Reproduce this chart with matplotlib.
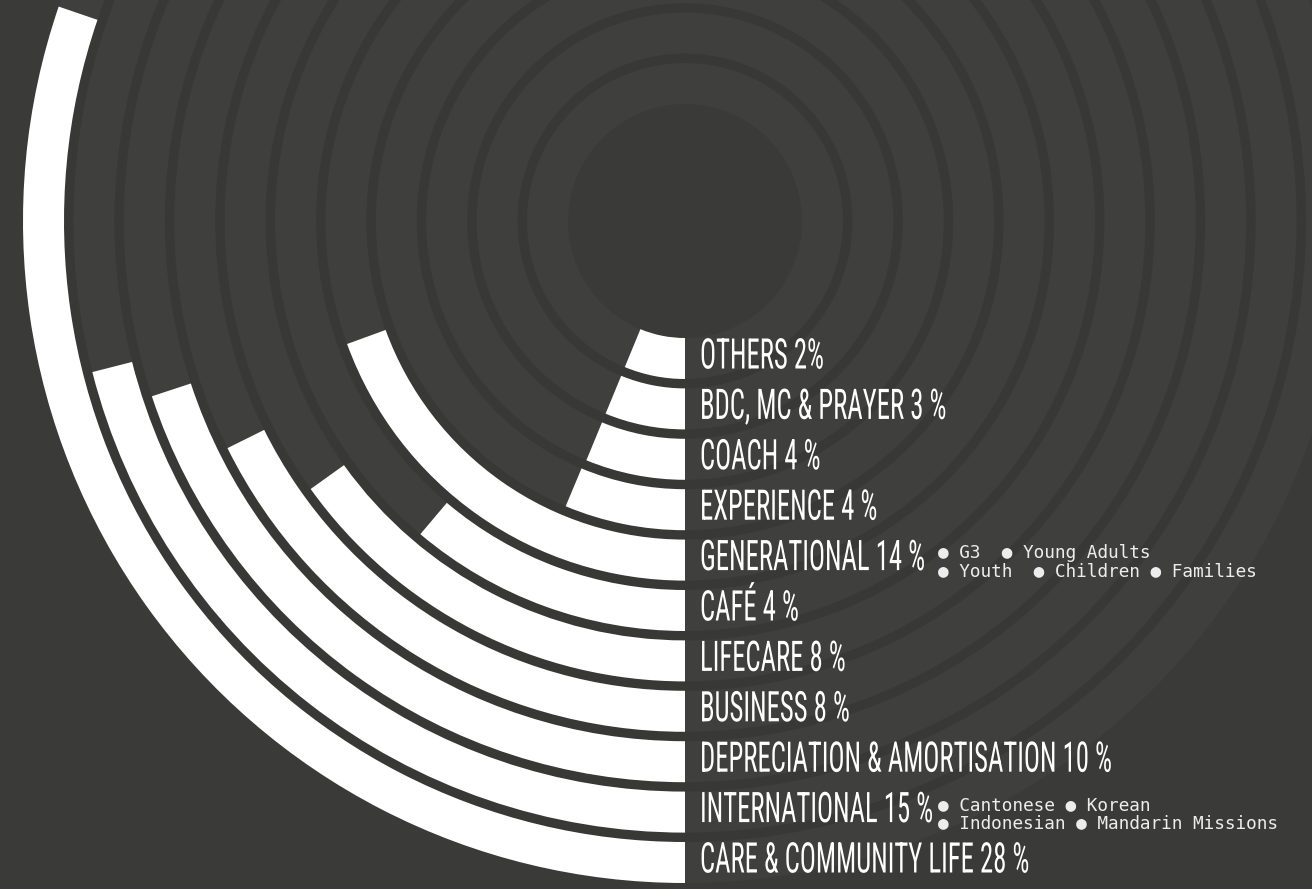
import numpy as np
import matplotlib
matplotlib.use('Agg')
import matplotlib.pyplot as plt
from matplotlib import font_manager
from matplotlib.font_manager import FontProperties
from matplotlib.textpath import TextPath
from matplotlib.patheffects import AbstractPathEffect
from matplotlib.transforms import Affine2D

# data (inner ring first)
categories = ["OTHERS", "BDC, MC & PRAYER", "COACH", "EXPERIENCE", "GENERATIONAL",
              "CAFÉ", "LIFECARE", "BUSINESS", "DEPRECIATION & AMORTISATION",
              "INTERNATIONAL", "CARE & COMMUNITY LIFE"]
pct_labels = ["2%", "3 %", "4 %", "4 %", "14 %", "4 %", "8 %", "8 %", "10 %", "15 %", "28 %"]
# arc length of each bar in degrees, measured clockwise from 6 o'clock
sweep_deg = [22.4, 22.4, 22.4, 22.7, 70.0, 40.2, 54.4, 63.6, 71.8, 75.7, 108.9]
gen_lines = ["● G3  ● Young Adults", "● Youth  ● Children ● Families"]
intl_lines = ["● Cantonese ● Korean", "● Indonesian ● Mandarin Missions"]

W, H = 1312, 889
CX, CY = 685, 221          # centre of the rings, pixels from top-left
R0, STEP, BAR_W = 117, 50.4, 41
RMAX = 700

BG = '#3a3a39'
TRACK = '#3f3f3d'
STRIPE = '#383837'

installed = {f.name for f in font_manager.fontManager.ttflist}
def pick(names):
    for n in names:
        if n in installed:
            return n
    return 'DejaVu Sans'

label_family = pick(['Liberation Sans Narrow', 'Roboto Condensed', 'Roboto', 'DejaVu Sans'])
mono_family = pick(['DejaVu Sans Mono', 'Liberation Mono'])


class Stretch(AbstractPathEffect):
    # stretch glyphs upward from the baseline y0 (display pixels)
    def __init__(self, y0, sy):
        super().__init__()
        self.y0 = y0
        self.sy = sy

    def draw_path(self, renderer, gc, tpath, affine, rgbFace=None):
        st = Affine2D().translate(0, -self.y0).scale(1, self.sy).translate(0, self.y0)
        renderer.draw_path(gc, tpath, affine + st, rgbFace)


fig = plt.figure(figsize=(W / 100, H / 100), dpi=100, facecolor=BG)
ax = fig.add_axes([(CX - RMAX) / W, (H - CY - RMAX) / H, 2 * RMAX / W, 2 * RMAX / H],
                  projection='polar')
ax.set_theta_zero_location('S')
ax.set_theta_direction(-1)
ax.set_ylim(0, RMAX)
ax.set_axis_off()

n = len(categories)
inner = R0 + STEP * np.arange(n)

# background rings
ax.bar(0, inner[-1] + BAR_W - R0, width=2 * np.pi, bottom=R0, align='edge',
       color=TRACK, lw=0)
ax.bar(np.zeros(n - 1), STEP - BAR_W, width=2 * np.pi, bottom=inner[:-1] + BAR_W,
       align='edge', color=STRIPE, lw=0)

# the bars
ax.bar(np.zeros(n), BAR_W, width=np.radians(sweep_deg), bottom=inner,
       align='edge', color='white', lw=0)

r = fig.canvas.get_renderer()

# labels: size set by width (longest label ~412 px), then stretched to 30 px caps
fp = FontProperties(family=label_family, size=72)   # 72 pt = 100 px
w100, _, _ = r.get_text_width_height_descent(f"{categories[8]} {pct_labels[8]}", fp, ismath=False)
fs_px = 100 * 412 / w100
cap = TextPath((0, 0), "H", size=100, prop=FontProperties(family=label_family)).get_extents().height / 100
sy = 30 / (cap * fs_px)

TX = 700
for i, (c, p) in enumerate(zip(categories, pct_labels)):
    yb = CY + inner[i] + 30.5
    fig.text(TX / W, 1 - yb / H, f"{c} {p}", color='white', family=label_family,
             fontsize=fs_px * 0.72, ha='left', va='baseline',
             path_effects=[Stretch(H - yb, sy)])

# sub-labels, two lines each
mono_pt = 10.7 / 0.602 * 72 / 100
mfp = FontProperties(family=[mono_family, 'DejaVu Sans'], size=mono_pt)
_, lp_h, lp_d = r.get_text_width_height_descent("lp", mfp, ismath=False)
asc, desc = lp_h - lp_d, lp_d
for lines in (gen_lines, intl_lines):
    for line in lines:
        _, h, d = r.get_text_width_height_descent(line, mfp, ismath=False)
        asc = max(asc, max(h, lp_h) - max(d, lp_d))
        desc = max(desc, d)
line_gap = 18
SX = 938
for idx, lines in ((4, gen_lines), (9, intl_lines)):
    first_base = CY + inner[idx] + 30.5 - 12
    top = first_base - asc
    fig.text(SX / W, 1 - top / H, "\n".join(lines), color='#ededed',
             fontproperties=mfp, ha='left', va='top',
             linespacing=(line_gap - desc) / asc)

fig.savefig('out.png', dpi=100, facecolor=BG)
